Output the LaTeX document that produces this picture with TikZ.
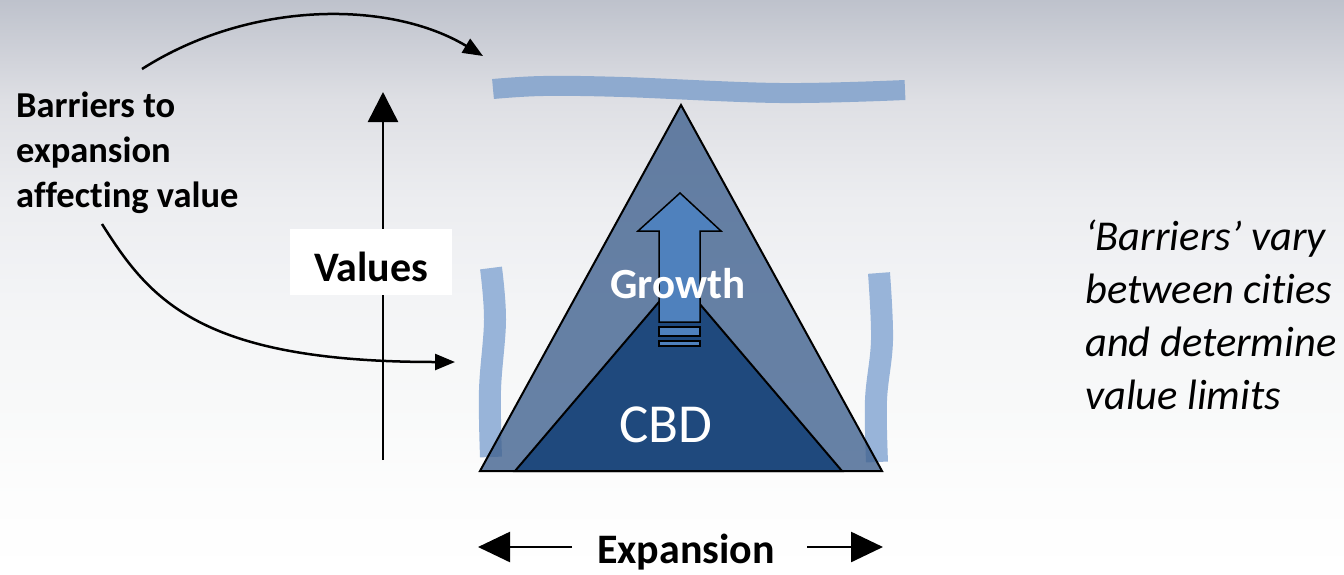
\documentclass[tikz,border=0pt]{standalone}
\usepackage{fontspec}
\setmainfont{Carlito}[Ligatures=NoCommon]
\usetikzlibrary{arrows.meta}

\definecolor{bgA}{RGB}{190,194,204}
\definecolor{bgB}{RGB}{222,223,228}
\definecolor{bgC}{RGB}{236,237,240}
\definecolor{bgD}{RGB}{243,244,246}
\definecolor{bgE}{RGB}{248,249,249}
\definecolor{bgF}{RGB}{253,253,253}
\definecolor{barrierTop}{RGB}{142,170,207}
\definecolor{barrierSide}{RGB}{152,180,217}
\definecolor{outerBlue}{RGB}{66,99,144}
\definecolor{cbdBlue}{RGB}{31,73,125}
\definecolor{growBlue}{RGB}{79,129,189}

\pgfdeclareverticalshading{pagebg}{100bp}{%
  color(0bp)=(white); color(25bp)=(white); color(31.4bp)=(bgF);
  color(40.2bp)=(bgE); color(48.9bp)=(bgD); color(57.6bp)=(bgC);
  color(66.3bp)=(bgB); color(75bp)=(bgA); color(100bp)=(bgA)}

\tikzset{
  connector/.style={line width=2.5pt, draw=black},
  smalltip/.style={-{Triangle[length=20pt,width=16pt]}},
  bigtip/.style={-{Triangle[length=30pt,width=30pt]}},
  barrier/.style={line width=#1, line cap=butt},
  boldlabel/.style={font=\bfseries\fontsize{42}{50}\selectfont, inner sep=0pt},
  outline/.style={draw=black, line width=2pt, line join=miter},
}

\begin{document}
\begin{tikzpicture}[x=1pt, y=-1pt]
  \useasboundingbox (0,0) rectangle (1344,574);
  \shade[shading=pagebg] (0,0) rectangle (1344,574);

  % barriers round the city
  \draw[barrier=20pt, draw=barrierTop] plot[smooth, tension=0.6]
    coordinates {(493,89) (543,86) (623,87) (780,93) (905,90)};
  \draw[barrier=22pt, draw=barrierSide] plot[smooth, tension=0.6]
    coordinates {(491,268) (495,320) (490,390) (491,457)};
  \draw[barrier=22pt, draw=barrierSide] plot[smooth, tension=0.6]
    coordinates {(879,273) (882,340) (876,400) (877,462)};

  % city triangles
  \coordinate (apex) at (681,105);
  \coordinate (bl) at (480,471);
  \coordinate (br) at (882,471);
  \filldraw[outline, fill=outerBlue, fill opacity=0.8] (apex) -- (bl) -- (br) -- cycle;
  \coordinate (capex) at (678.5,279);
  \coordinate (cbl) at (515,471);
  \coordinate (cbr) at (842,471);
  \filldraw[outline, fill=cbdBlue] (capex) -- (cbl) -- (cbr) -- cycle;

  % growth arrow
  \filldraw[draw=black, line width=1.5pt, fill=growBlue, line join=miter]
    (680,193) -- (721,231) -- (700,231) -- (700,322) -- (659,322) -- (659,231) -- (638,231) -- cycle;
  \filldraw[draw=black, line width=1.5pt, fill=growBlue] (659,327) rectangle (700,336);
  \filldraw[draw=black, line width=1.2pt, fill=growBlue] (659,341) rectangle (700,346);

  \node[boldlabel, text=white, font=\bfseries\fontsize{43}{50}\selectfont, anchor=base] (growth) at (678,298) {Growth};
  \node[text=white, font=\fontsize{55}{60}\selectfont, inner sep=0pt, anchor=base] (cbd) at (666,442) {CBD};

  % value axis
  \coordinate (vbot) at (383,460);
  \coordinate (vtop) at (383,92);
  \draw[connector, bigtip] (vbot) -- (vtop);
  \node[fill=white, minimum width=162pt, minimum height=66pt, inner sep=0pt] (valbox) at (371,262) {};
  \node[boldlabel, anchor=base] (values) at (371,281) {Values};

  % barriers label and its arrows
  \node[font=\bfseries\fontsize{36.5}{44.6}\selectfont, align=left, inner sep=0pt, anchor=base west]
    (barriers) at (16,207) {Barriers to\\expansion\\affecting value};
  \coordinate (topstart) at (142,69);
  \coordinate (topend) at (483,56);
  \coordinate (lowstart) at (102,224);
  \coordinate (lowend) at (455,362);
  \draw[connector, smalltip] (topstart) .. controls (250,0) and (390,0) .. (topend);
  \draw[connector, smalltip] (lowstart) .. controls (150,300) and (200,362) .. (lowend);

  % expansion
  \node[boldlabel, anchor=base] (expansion) at (686,563) {Expansion};
  \coordinate (exlA) at (572,547);
  \coordinate (exlB) at (478,547);
  \coordinate (exrA) at (807,547);
  \coordinate (exrB) at (883,547);
  \draw[connector, -{Triangle[length=32pt,width=30pt]}] (exlA) -- (exlB);
  \draw[connector, -{Triangle[length=32pt,width=30pt]}] (exrA) -- (exrB);

  % note on the right
  \node[font=\itshape\fontsize{42.5}{53}\selectfont, align=left, inner sep=0pt, anchor=base west]
    (note) at (1085,409) {‘Barriers’ vary\\between cities\\and determine\\value limits};
\end{tikzpicture}
\end{document}
